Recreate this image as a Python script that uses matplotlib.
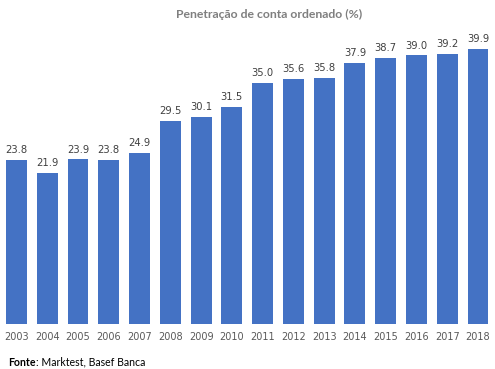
import matplotlib
matplotlib.use("Agg")
import matplotlib.pyplot as plt

years = ["2003", "2004", "2005", "2006", "2007", "2008", "2009", "2010",
         "2011", "2012", "2013", "2014", "2015", "2016", "2017", "2018"]
values = [23.8, 21.9, 23.9, 23.8, 24.9, 29.5, 30.1, 31.5,
          35.0, 35.6, 35.8, 37.9, 38.7, 39.0, 39.2, 39.9]
title = "Penetração de conta ordenado (%)"
source_bold = "Fonte"
source_rest = ": Marktest, Basef Banca"

fig = plt.figure(figsize=(4.95, 3.69), dpi=100)
ax = fig.add_axes([1.1/495, 45/369, 492.3/495, (324-30)/369])
x = list(range(len(years)))
bars = ax.bar(x, values, width=0.68, color="#4472C4")
ax.set_xlim(-0.5, len(years) - 0.5)
ax.set_ylim(0, 42.7)
for xi, v in zip(x, values):
    ax.annotate(f"{v:.1f}", (xi, v), xytext=(0, 3.5), textcoords="offset points",
                ha="center", va="bottom", fontsize=7.2, color="#404040",
                family="DejaVu Sans")
ax.set_xticks(x)
ax.set_xticklabels(years, fontsize=7, color="#595959", family="DejaVu Sans")
ax.tick_params(axis="x", length=0, pad=6)
ax.set_yticks([])
for s in ax.spines.values():
    s.set_visible(False)

fig.text(269/495, 1 - 14/369, title, ha="center", va="center", fontsize=8.8,
         fontweight="bold", color="#7F7F7F", family="Lato")
t = fig.text(8/495, 1 - 362/369, source_bold, ha="left", va="center", fontsize=7.6,
             fontweight="bold", color="#000000", family="Lato")
fig.canvas.draw()
bb = t.get_window_extent()
fig.text(bb.x1 / 495, 1 - 362/369, source_rest, ha="left", va="center", fontsize=7.6,
         color="#000000", family="Lato")

fig.savefig("out.png", dpi=100)
